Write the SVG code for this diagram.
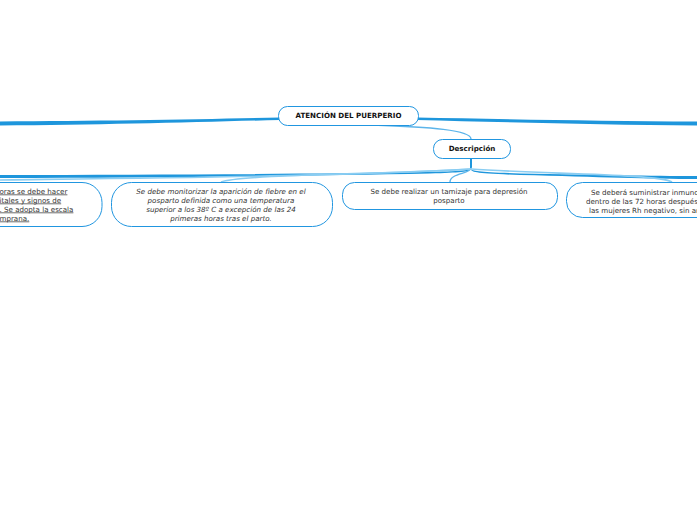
<svg xmlns="http://www.w3.org/2000/svg" width="697" height="520" viewBox="0 0 697 520">
<style>
.node{fill:#fff;stroke:#2196e0;stroke-width:1}
.t{font-family:"DejaVu Sans",Verdana,sans-serif;font-size:7.1px;fill:#333;text-anchor:middle}
.b{font-weight:bold;fill:#111}
.i{font-style:italic}
.thick{fill:#1e96dc;stroke:none}
.thin{fill:none;stroke:#5bb4ea;stroke-width:1.4}
.thin2{fill:none;stroke:#8acdf2;stroke-width:1.6}
</style>
<rect width="697" height="520" fill="#fff"/>
<g id="connectors">
<path class="thick" d="M280 117.5 C200 119.5 100 121 0 121.5 L0 125.5 C100 125 200 122 280 120 Z"/>
<path class="thick" d="M417 117.5 C500 119 600 121 697 121.5 L697 125.5 C600 125 500 122 417 120 Z"/>
<path class="thin" d="M372 125 C430 127 471 130 471 139"/>
<path class="thick" d="M470 158 L472 158 L472 167 C472 170 466 171 430 172 C300 174 150 175 0 175 L0 178 C150 178 300 176 430 173.5 C460 172.5 470 172 470 169 Z"/>
<path class="thick" d="M471 169 C472 171 480 172 520 173.5 C600 175 650 176 697 176 L697 179 C650 179 600 177 520 175 C475 173.5 471 172 471 169 Z"/>
<path class="thin" d="M471 168 C471 174 450 173 450 182"/>
<path class="thin2" d="M471 169 C400 174 240 174 221 182"/>
<path class="thin2" d="M471 169 C350 176 150 178 0 180"/>
<path class="thin2" d="M471 169 C540 174 660 174 672 182"/>
</g>
<g id="root">
<rect class="node" x="278.5" y="106.5" width="140" height="19" rx="9"/>
<text class="t b" x="348.5" y="118.3">ATENCIÓN DEL PUERPERIO</text>
</g>
<g id="descripcion">
<rect class="node" x="433.5" y="139.5" width="77" height="19" rx="9"/>
<text class="t b" x="472" y="151.3">Descripción</text>
</g>
<g id="child1">
<rect class="node" x="-130" y="182.5" width="232" height="44" rx="20"/>
<text class="t" style="text-anchor:start;text-decoration:underline" x="-0.5" y="193.5">oras se debe hacer </text>
<text class="t" style="text-anchor:start;text-decoration:underline" x="-0.5" y="202.5">itales y signos de </text>
<text class="t" style="text-anchor:start;text-decoration:underline" x="-0.5" y="211.5">. Se adopta la escala </text>
<text class="t" style="text-anchor:start;text-decoration:underline" x="-0.5" y="220.5">mprana.</text>
</g>
<g id="child2">
<rect class="node" x="111.5" y="182.5" width="221" height="44" rx="20"/>
<text class="t i" x="221" y="193.5">Se debe monitorizar la aparición de fiebre en el</text>
<text class="t i" x="221" y="202.5">posparto definida como una temperatura</text>
<text class="t i" x="221" y="211.5">superior a los 38º C a excepción de las 24</text>
<text class="t i" x="221" y="220.5">primeras horas tras el parto.</text>
</g>
<g id="child3">
<rect class="node" x="342.5" y="182.5" width="215" height="27" rx="12"/>
<text class="t" x="449" y="193.5">Se debe realizar un tamizaje para depresión</text>
<text class="t" x="449" y="202.5">posparto</text>
</g>
<g id="child4">
<rect class="node" x="566.5" y="182.5" width="212" height="35" rx="16"/>
<text class="t" style="text-anchor:start" x="591" y="194.5">Se deberá suministrar inmuno</text>
<text class="t" style="text-anchor:start" x="586" y="203.5">dentro de las 72 horas después</text>
<text class="t" style="text-anchor:start" x="589" y="212.5">las mujeres Rh negativo, sin an</text>
</g>
</svg>
